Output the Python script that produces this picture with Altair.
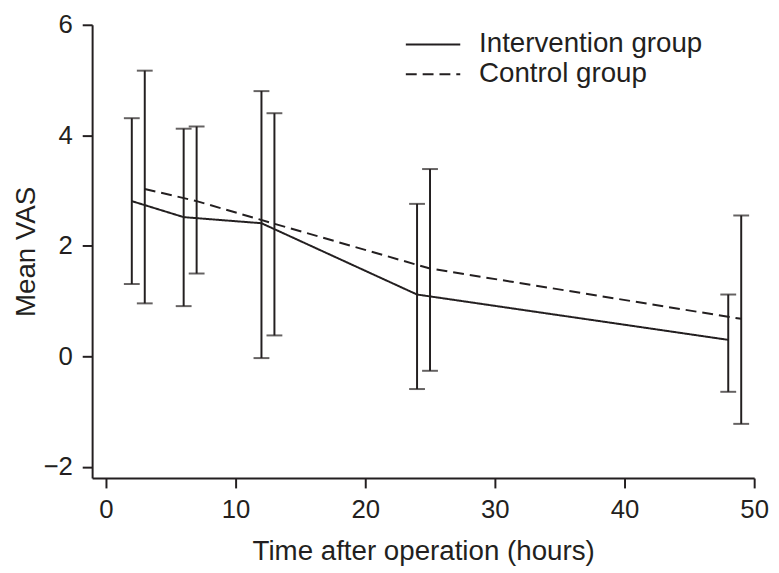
import altair as alt
import pandas as pd

groups = ["Intervention group", "Control group"]

int_x = [2, 6, 12, 24, 48]
int_mean = [2.81, 2.52, 2.41, 1.12, 0.30]
int_upper = [4.31, 4.12, 4.80, 2.76, 1.12]
int_lower = [1.31, 0.91, -0.03, -0.59, -0.64]

ctl_x = [3, 7, 13, 25, 49]
ctl_mean = [3.03, 2.81, 2.40, 1.59, 0.68]
ctl_upper = [5.17, 4.16, 4.40, 3.39, 2.55]
ctl_lower = [0.96, 1.50, 0.38, -0.26, -1.22]

x_ticks = [0, 10, 20, 30, 40, 50]
y_ticks = [-2, 0, 2, 4, 6]

rows = []
for g, xs, ms, us, ls in [
    (groups[0], int_x, int_mean, int_upper, int_lower),
    (groups[1], ctl_x, ctl_mean, ctl_upper, ctl_lower),
]:
    for x, m, u, l in zip(xs, ms, us, ls):
        rows.append({"group": g, "hours": x, "mean": m, "upper": u, "lower": l})
df = pd.DataFrame(rows)

INK = "#231f20"
FONT = "Liberation Sans"

xscale = alt.Scale(domain=[-1.06, 50], nice=False, zero=False)
yscale = alt.Scale(domain=[-2.2, 6], nice=False, zero=False)

xaxis = alt.Axis(values=x_ticks, format="d", title="Time after operation (hours)",
                 grid=False, tickSize=10, tickWidth=2, domainWidth=2,
                 labelPadding=9, titlePadding=15, labelFlush=False)
yaxis = alt.Axis(values=y_ticks, format="d", title="Mean VAS", grid=False,
                 tickSize=10, tickWidth=2, domainWidth=2, labelPadding=10,
                 titlePadding=3, labelFlush=False)

base = alt.Chart(df)

lines = base.mark_line(color=INK, strokeWidth=2).encode(
    x=alt.X("hours:Q", scale=xscale, axis=xaxis),
    y=alt.Y("mean:Q", scale=yscale, axis=yaxis),
    strokeDash=alt.StrokeDash(
        "group:N",
        scale=alt.Scale(domain=groups, range=[[1, 0], [11, 6]]),
        legend=alt.Legend(
            orient="none", legendX=316, legendY=6, title=None,
            symbolType="stroke", symbolSize=3025, symbolStrokeWidth=2,
            symbolStrokeColor=INK, labelFontSize=28, labelColor=INK,
            labelFont=FONT, labelOffset=18, rowPadding=2, clipHeight=28,
            labelLimit=400,
        ),
    ),
    detail="group:N",
)

bars = base.mark_rule(color=INK, strokeWidth=2).encode(
    x="hours:Q", y="lower:Q", y2="upper:Q"
)
caps_up = base.mark_tick(color=INK, orient="horizontal", size=16, thickness=2).encode(
    x="hours:Q", y="upper:Q"
)
caps_lo = base.mark_tick(color=INK, orient="horizontal", size=16, thickness=2).encode(
    x="hours:Q", y="lower:Q"
)

chart = alt.layer(bars, caps_up, caps_lo, lines).properties(
    width=669, height=458,
    autosize=alt.AutoSizeParams(type="none"),
    padding={"left": 85, "top": 14, "right": 17, "bottom": 93},
).configure_view(stroke=None).configure_axis(
    domainColor=INK, tickColor=INK, labelColor=INK, titleColor=INK,
    labelFont=FONT, titleFont=FONT, labelFontSize=26, titleFontSize=28,
    titleFontWeight="normal",
)

chart.save("out.html", embed_options={"renderer": "svg", "actions": False})
